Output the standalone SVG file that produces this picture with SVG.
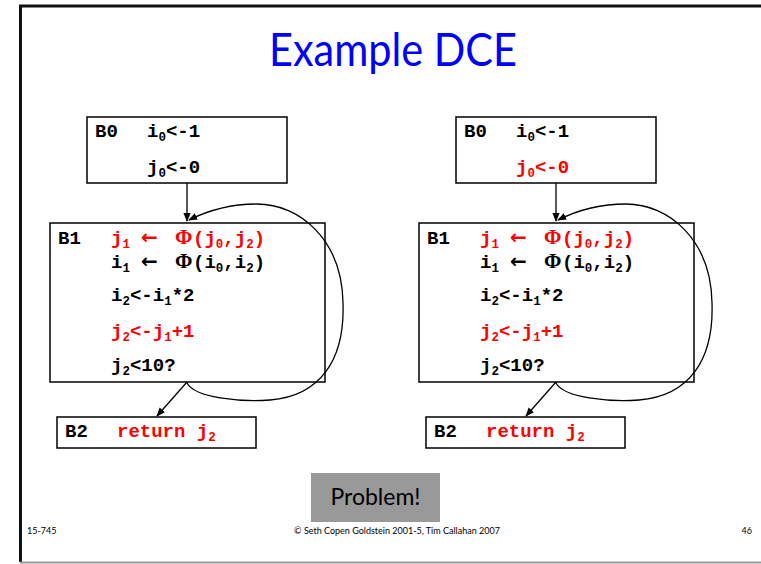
<svg xmlns="http://www.w3.org/2000/svg" width="761" height="564" viewBox="0 0 761 564">
<defs>
<marker id="ah" viewBox="0 0 10 10" refX="9" refY="5" markerWidth="9" markerHeight="9" markerUnits="userSpaceOnUse" orient="auto">
<path d="M0,1 L10,5 L0,9 z" fill="#000"/>
</marker>
<style>
.box{fill:none;stroke:#000;stroke-width:1.5}
.c{font-family:"Liberation Mono","Courier New",monospace;font-weight:bold;font-size:19px;fill:#000}
.r{fill:#ff0000}
.s{font-size:12.5px}
.arr{font-family:"DejaVu Sans",sans-serif;font-weight:bold;font-size:20px}
.phi{font-family:"Liberation Serif",serif;font-weight:bold;font-size:21px}
.edge{fill:none;stroke:#000;stroke-width:1.3}
.title{font-family:"Comic Sans MS","Lato",sans-serif;font-size:46px;fill:#0000ff}
.foot{font-family:"Comic Sans MS","Lato",sans-serif;font-size:9px;fill:#000}
</style>
</defs>
<rect width="761" height="564" fill="#fff"/>
<g id="frame">
<path d="M761,6 H20.5 V562" fill="none" stroke="#111" stroke-width="3"/>
<line x1="20" y1="562.5" x2="761" y2="562.5" stroke="#999" stroke-width="2"/>
</g>
<text class="title" x="393" y="66" text-anchor="middle" textLength="248" lengthAdjust="spacingAndGlyphs">Example DCE</text>

<g id="connectors">
<line class="edge" x1="187" y1="183" x2="187" y2="221" marker-end="url(#ah)"/>
<line class="edge" x1="187" y1="382" x2="157" y2="416" marker-end="url(#ah)"/>
<path class="edge" d="M187,383 C195,398 240,402 270,400 C320,396 345,360 343,303 C342,240 300,204 257,204 C230,204 205,212 189,220" marker-end="url(#ah)"/>
<line class="edge" x1="556" y1="183" x2="556" y2="221" marker-end="url(#ah)"/>
<line class="edge" x1="556" y1="382" x2="526" y2="416" marker-end="url(#ah)"/>
<path class="edge" d="M556,383 C564,398 609,402 639,400 C689,396 714,360 712,303 C711,240 669,204 626,204 C599,204 574,212 558,220" marker-end="url(#ah)"/>
</g>

<g id="L_B0">
<rect class="box" x="87" y="117" width="200" height="66"/>
<text class="c" x="95" y="137">B0</text>
<text class="c" x="147" y="137">i<tspan class="s" dy="4">0</tspan><tspan dy="-4">&lt;-1</tspan></text>
<text class="c" x="147" y="173">j<tspan class="s" dy="4">0</tspan><tspan dy="-4">&lt;-0</tspan></text>
</g>
<g id="L_B1">
<rect class="box" x="50" y="223" width="275" height="159"/>
<text class="c" x="58" y="244">B1</text>
<text class="c r" x="111" y="244">j<tspan class="s" dy="4">1</tspan><tspan class="arr" x="141" dy="-4">←</tspan><tspan class="phi" x="175">Φ</tspan><tspan x="193">(j</tspan><tspan class="s" dy="4">0</tspan><tspan dy="-4">,j</tspan><tspan class="s" dy="4">2</tspan><tspan dy="-4">)</tspan></text>
<text class="c" x="111" y="268">i<tspan class="s" dy="4">1</tspan><tspan class="arr" x="141" dy="-4">←</tspan><tspan class="phi" x="175">Φ</tspan><tspan x="193">(i</tspan><tspan class="s" dy="4">0</tspan><tspan dy="-4">,i</tspan><tspan class="s" dy="4">2</tspan><tspan dy="-4">)</tspan></text>
<text class="c" x="111" y="301">i<tspan class="s" dy="4">2</tspan><tspan dy="-4">&lt;-i</tspan><tspan class="s" dy="4">1</tspan><tspan dy="-4">*2</tspan></text>
<text class="c r" x="111" y="337">j<tspan class="s" dy="4">2</tspan><tspan dy="-4">&lt;-j</tspan><tspan class="s" dy="4">1</tspan><tspan dy="-4">+1</tspan></text>
<text class="c" x="111" y="371">j<tspan class="s" dy="4">2</tspan><tspan dy="-4">&lt;10?</tspan></text>
</g>
<g id="L_B2">
<rect class="box" x="57" y="417" width="199" height="31"/>
<text class="c" x="65" y="437">B2</text>
<text class="c r" x="117" y="437">return j<tspan class="s" dy="4">2</tspan></text>
</g>

<g id="R_B0">
<rect class="box" x="456" y="117" width="200" height="66"/>
<text class="c" x="464" y="137">B0</text>
<text class="c" x="516" y="137">i<tspan class="s" dy="4">0</tspan><tspan dy="-4">&lt;-1</tspan></text>
<text class="c r" x="516" y="173">j<tspan class="s" dy="4">0</tspan><tspan dy="-4">&lt;-0</tspan></text>
</g>
<g id="R_B1">
<rect class="box" x="419" y="223" width="275" height="159"/>
<text class="c" x="427" y="244">B1</text>
<text class="c r" x="480" y="244">j<tspan class="s" dy="4">1</tspan><tspan class="arr" x="510" dy="-4">←</tspan><tspan class="phi" x="544">Φ</tspan><tspan x="562">(j</tspan><tspan class="s" dy="4">0</tspan><tspan dy="-4">,j</tspan><tspan class="s" dy="4">2</tspan><tspan dy="-4">)</tspan></text>
<text class="c" x="480" y="268">i<tspan class="s" dy="4">1</tspan><tspan class="arr" x="510" dy="-4">←</tspan><tspan class="phi" x="544">Φ</tspan><tspan x="562">(i</tspan><tspan class="s" dy="4">0</tspan><tspan dy="-4">,i</tspan><tspan class="s" dy="4">2</tspan><tspan dy="-4">)</tspan></text>
<text class="c" x="480" y="301">i<tspan class="s" dy="4">2</tspan><tspan dy="-4">&lt;-i</tspan><tspan class="s" dy="4">1</tspan><tspan dy="-4">*2</tspan></text>
<text class="c r" x="480" y="337">j<tspan class="s" dy="4">2</tspan><tspan dy="-4">&lt;-j</tspan><tspan class="s" dy="4">1</tspan><tspan dy="-4">+1</tspan></text>
<text class="c" x="480" y="371">j<tspan class="s" dy="4">2</tspan><tspan dy="-4">&lt;10?</tspan></text>
</g>
<g id="R_B2">
<rect class="box" x="426" y="417" width="199" height="31"/>
<text class="c" x="434" y="437">B2</text>
<text class="c r" x="486" y="437">return j<tspan class="s" dy="4">2</tspan></text>
</g>

<g id="problem">
<rect x="311" y="473" width="129" height="49" fill="#999"/>
<text x="375.5" y="505" text-anchor="middle" font-family="Comic Sans MS, Lato, sans-serif" font-size="23" fill="#000">Problem!</text>
</g>

<g id="footer">
<text class="foot" x="27" y="534">15-745</text>
<text class="foot" x="397" y="534" text-anchor="middle">© Seth Copen Goldstein 2001-5, Tim Callahan 2007</text>
<text class="foot" x="752" y="534" text-anchor="end">46</text>
</g>
</svg>
